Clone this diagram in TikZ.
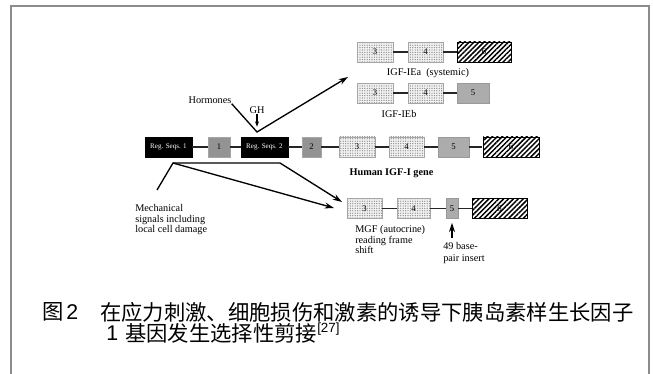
\documentclass[tikz,border=0pt]{standalone}
\usepackage{fontspec}
\setmainfont{Liberation Serif}
\newfontfamily\cjk{Noto Sans CJK SC}
\newfontfamily\capsf{Liberation Sans}
\usetikzlibrary{arrows.meta, patterns.meta}
\definecolor{framegray}{gray}{0.55}
\def\rowH{15pt}
\def\lblfont{\fontsize{7.7}{8}\selectfont}
\def\capfont{\fontsize{16}{18}\selectfont}

\begin{document}
\begin{tikzpicture}[
    x=0.75pt, y=-0.75pt,
    >={Stealth[length=7pt,width=4.5pt]},
    every node/.style={inner sep=0pt},
    exon/.style={draw=gray!70, minimum height=\rowH, minimum width=#1*0.75pt,
        font=\fontsize{6.5}{7}\selectfont},
    reg/.style={exon=#1, fill=black, draw=black, text=white,
        font=\fontsize{5.3}{6}\selectfont},
    darkdot/.style={exon=#1, preaction={fill=gray!55},
        pattern={Dots[distance=1.5pt,radius=0.4pt]}, pattern color=gray!20!black},
    dotex/.style={exon=#1, preaction={fill=gray!10},
        pattern={Dots[distance=1.8pt,radius=0.5pt]}, pattern color=gray!90},
    grayex/.style={exon=#1, fill=gray!65, draw=gray!80},
    hatchex/.style={exon=#1, draw=black,
        pattern={Lines[angle=45,distance=2.6pt,line width=1.1pt]}, pattern color=black},
    link/.style={draw=gray!30!black, line width=1pt},
    arrowline/.style={line width=1pt},
    lbl/.style={font=\lblfont, align=left},
    cjktext/.style={font=\cjk\capfont, anchor=west},
    captext/.style={font=\capsf\capfont, anchor=west}
]
\useasboundingbox (0,0) rectangle (653,374);
\draw[framegray, line width=1.5pt] (11,374) -- (11,6) -- (649,6) -- (649,374);

% main gene
\node[reg=47] (rs1) at (168.5,147) {Reg. Seqs. 1};
\node[darkdot=22] (e1) at (219,147) {1};
\node[reg=47] (rs2) at (264.5,147) {Reg. Seqs. 2};
\node[darkdot=19] (e2) at (311.5,147) {2};
\node[dotex=36] (e3) at (357,147) {3};
\node[dotex=35] (e4) at (406.5,147) {4};
\node[grayex=31] (e5) at (453.5,147) {5};
\node[hatchex=56] (e6) at (511,147) {6};
\node[font=\lblfont\bfseries] (gene) at (391.5,173) {Human IGF-I gene};

% IGF-IEa
\node[dotex=36] (a3) at (375,52) {3};
\node[dotex=35] (a4) at (425.5,52) {4};
\node[hatchex=54] (a6) at (484,52) {6};
\node[lbl] (ialbl) at (428,73) {IGF-IEa\enspace(systemic)};

% IGF-IEb
\node[dotex=36] (b3) at (375,93) {3};
\node[dotex=35] (b4) at (425.5,93) {4};
\node[grayex=32] (b5) at (473,93) {5};
\node[lbl] (iblbl) at (399,114) {IGF-IEb};

% MGF
\node[dotex=35] (c3) at (364.5,208.5) {3};
\node[dotex=33] (c4) at (413.5,208.5) {4};
\node[grayex=12] (c5) at (452,208.5) {5};
\node[hatchex=55] (c6) at (499.5,208.5) {6};
\node[lbl, anchor=north west] (mgf) at (355,225) {MGF (autocrine)\\reading frame\\shift};
\node[lbl, anchor=north west, font=\fontsize{7.7}{9}\selectfont] (ins) at (443,242) {49 base-\\pair insert};

\foreach \p/\q in {rs1/e1, e1/rs2, rs2/e2, e2/e3, e3/e4, e4/e5, e5/e6,
                   a3/a4, a4/a6, b3/b4, b4/b5, c3/c4, c4/c5, c5/c6}
  \draw[link] (\p) -- (\q);

% stimuli
\node[lbl] (hor) at (210,100) {Hormones};
\node[lbl] (gh) at (257,110) {GH};
\node[lbl, anchor=north west] (mech) at (135,204) {Mechanical\\signals including\\local cell damage};

\coordinate (apex) at (257,132);
\coordinate (tipA) at (348,77);
\coordinate (mfoot) at (157,190);
\coordinate (knee) at (173,163);
\coordinate (brk) at (280,163);
\coordinate (tipB) at (342,202);
\coordinate (tipC) at (334,208);

\draw[arrowline, ->] (hor.south east) -- (apex) -- (tipA);
\draw[line width=0.8pt, -{Stealth[length=4pt,width=3pt]}] (gh.south) -- ([yshift=4pt]apex);
\draw[arrowline, ->] (mfoot) -- (knee) -- (brk) -- (tipB);
\draw[arrowline, ->] (knee) -- (tipC);
\draw[arrowline, ->] ([yshift=3pt]ins.north -| c5.south) -- ([yshift=-3pt]c5.south);

% caption
\node[cjktext] (fig) at (42,312) {图};
\node[captext] (fignum) at (66,312) {2};
\node[cjktext] (cap1) at (100,312) {在应力刺激、细胞损伤和激素的诱导下胰岛素样生长因子};
\node[captext] (capnum) at (106,333) {1};
\node[cjktext] (cap2) at (125,333) {基因发生选择性剪接\raisebox{7pt}{\capsf\fontsize{10}{10}\selectfont[27]}};
\end{tikzpicture}
\end{document}
